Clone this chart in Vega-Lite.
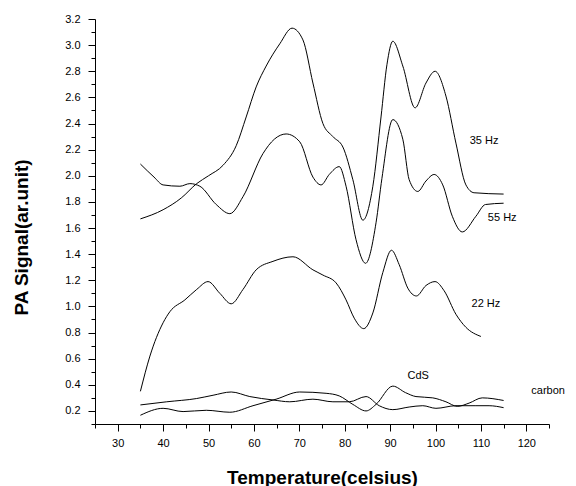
{
  "$schema": "https://vega.github.io/schema/vega-lite/v6.json",
  "width": 454,
  "height": 405,
  "autosize": "none",
  "padding": {"left": 95, "top": 19, "right": 27, "bottom": 62},
  "background": "white",
  "config": {
    "view": {"stroke": null},
    "font": "Liberation Sans",
    "axis": {
      "domainColor": "black",
      "domainWidth": 1,
      "tickColor": "black",
      "tickWidth": 1,
      "grid": false,
      "labelFont": "Liberation Sans",
      "labelFontSize": 11,
      "labelColor": "black",
      "labelOverlap": false,
      "titleFont": "Liberation Sans",
      "titleFontSize": 19,
      "titleFontWeight": "bold",
      "titleColor": "black"
    }
  },
  "datasets": {
    "curves": [
      {"series": "35 Hz", "temp": 35, "signal": 1.67},
      {"series": "35 Hz", "temp": 40, "signal": 1.74},
      {"series": "35 Hz", "temp": 44, "signal": 1.83},
      {"series": "35 Hz", "temp": 47.4, "signal": 1.94},
      {"series": "35 Hz", "temp": 50, "signal": 2.0},
      {"series": "35 Hz", "temp": 53.2, "signal": 2.08},
      {"series": "35 Hz", "temp": 56.1, "signal": 2.23},
      {"series": "35 Hz", "temp": 58.3, "signal": 2.45},
      {"series": "35 Hz", "temp": 60.5, "signal": 2.68},
      {"series": "35 Hz", "temp": 62.7, "signal": 2.84},
      {"series": "35 Hz", "temp": 65.7, "signal": 3.01},
      {"series": "35 Hz", "temp": 68.4, "signal": 3.13},
      {"series": "35 Hz", "temp": 70.8, "signal": 3.04},
      {"series": "35 Hz", "temp": 73, "signal": 2.71},
      {"series": "35 Hz", "temp": 75.2, "signal": 2.4},
      {"series": "35 Hz", "temp": 77.4, "signal": 2.3},
      {"series": "35 Hz", "temp": 79.6, "signal": 2.22},
      {"series": "35 Hz", "temp": 81.8, "signal": 1.97},
      {"series": "35 Hz", "temp": 84, "signal": 1.66},
      {"series": "35 Hz", "temp": 86.2, "signal": 1.92},
      {"series": "35 Hz", "temp": 88, "signal": 2.45},
      {"series": "35 Hz", "temp": 89.3, "signal": 2.85},
      {"series": "35 Hz", "temp": 90.6, "signal": 3.03},
      {"series": "35 Hz", "temp": 92.8, "signal": 2.84},
      {"series": "35 Hz", "temp": 95.5, "signal": 2.52},
      {"series": "35 Hz", "temp": 97.9, "signal": 2.71},
      {"series": "35 Hz", "temp": 99.9, "signal": 2.8},
      {"series": "35 Hz", "temp": 102.3, "signal": 2.61},
      {"series": "35 Hz", "temp": 104.5, "signal": 2.25},
      {"series": "35 Hz", "temp": 106.7, "signal": 1.93},
      {"series": "35 Hz", "temp": 108.5, "signal": 1.87},
      {"series": "35 Hz", "temp": 115, "signal": 1.86},
      {"series": "55 Hz", "temp": 35, "signal": 2.09},
      {"series": "55 Hz", "temp": 38, "signal": 1.99},
      {"series": "55 Hz", "temp": 40, "signal": 1.93},
      {"series": "55 Hz", "temp": 43.7, "signal": 1.92},
      {"series": "55 Hz", "temp": 45.9, "signal": 1.94},
      {"series": "55 Hz", "temp": 48.1, "signal": 1.92},
      {"series": "55 Hz", "temp": 51.7, "signal": 1.78},
      {"series": "55 Hz", "temp": 54.7, "signal": 1.71},
      {"series": "55 Hz", "temp": 57.6, "signal": 1.84},
      {"series": "55 Hz", "temp": 62, "signal": 2.17},
      {"series": "55 Hz", "temp": 64.5, "signal": 2.28},
      {"series": "55 Hz", "temp": 67.1, "signal": 2.32},
      {"series": "55 Hz", "temp": 70.1, "signal": 2.26},
      {"series": "55 Hz", "temp": 73, "signal": 1.99},
      {"series": "55 Hz", "temp": 74.8, "signal": 1.93},
      {"series": "55 Hz", "temp": 76.6, "signal": 2.01},
      {"series": "55 Hz", "temp": 78.8, "signal": 2.07},
      {"series": "55 Hz", "temp": 80.3, "signal": 1.92},
      {"series": "55 Hz", "temp": 82.5, "signal": 1.51},
      {"series": "55 Hz", "temp": 84.6, "signal": 1.33},
      {"series": "55 Hz", "temp": 86.9, "signal": 1.64},
      {"series": "55 Hz", "temp": 88.2, "signal": 1.98},
      {"series": "55 Hz", "temp": 90.6, "signal": 2.43},
      {"series": "55 Hz", "temp": 92.8, "signal": 2.28},
      {"series": "55 Hz", "temp": 94.2, "signal": 1.97},
      {"series": "55 Hz", "temp": 96.1, "signal": 1.88},
      {"series": "55 Hz", "temp": 97.9, "signal": 1.96},
      {"series": "55 Hz", "temp": 99.7, "signal": 2.01},
      {"series": "55 Hz", "temp": 101.6, "signal": 1.93},
      {"series": "55 Hz", "temp": 103.7, "signal": 1.69},
      {"series": "55 Hz", "temp": 105.9, "signal": 1.57},
      {"series": "55 Hz", "temp": 108.9, "signal": 1.69},
      {"series": "55 Hz", "temp": 111, "signal": 1.78},
      {"series": "55 Hz", "temp": 115, "signal": 1.79},
      {"series": "22 Hz", "temp": 35, "signal": 0.35},
      {"series": "22 Hz", "temp": 37.1, "signal": 0.62},
      {"series": "22 Hz", "temp": 40, "signal": 0.875},
      {"series": "22 Hz", "temp": 41.5, "signal": 0.96},
      {"series": "22 Hz", "temp": 44.8, "signal": 1.05},
      {"series": "22 Hz", "temp": 47.4, "signal": 1.13},
      {"series": "22 Hz", "temp": 49.9, "signal": 1.19},
      {"series": "22 Hz", "temp": 52.5, "signal": 1.1},
      {"series": "22 Hz", "temp": 55, "signal": 1.02},
      {"series": "22 Hz", "temp": 57.6, "signal": 1.13},
      {"series": "22 Hz", "temp": 60.5, "signal": 1.28},
      {"series": "22 Hz", "temp": 64.2, "signal": 1.345},
      {"series": "22 Hz", "temp": 68.6, "signal": 1.38},
      {"series": "22 Hz", "temp": 73, "signal": 1.28},
      {"series": "22 Hz", "temp": 75.2, "signal": 1.24},
      {"series": "22 Hz", "temp": 78.1, "signal": 1.18},
      {"series": "22 Hz", "temp": 80.3, "signal": 1.05},
      {"series": "22 Hz", "temp": 82.1, "signal": 0.91},
      {"series": "22 Hz", "temp": 84.2, "signal": 0.83},
      {"series": "22 Hz", "temp": 86.2, "signal": 0.95},
      {"series": "22 Hz", "temp": 88.4, "signal": 1.26},
      {"series": "22 Hz", "temp": 90.3, "signal": 1.43},
      {"series": "22 Hz", "temp": 92, "signal": 1.32},
      {"series": "22 Hz", "temp": 93.9, "signal": 1.14},
      {"series": "22 Hz", "temp": 95.8, "signal": 1.08},
      {"series": "22 Hz", "temp": 97.9, "signal": 1.16},
      {"series": "22 Hz", "temp": 99.9, "signal": 1.19},
      {"series": "22 Hz", "temp": 101.9, "signal": 1.12},
      {"series": "22 Hz", "temp": 104.5, "signal": 0.94},
      {"series": "22 Hz", "temp": 106.7, "signal": 0.84},
      {"series": "22 Hz", "temp": 110, "signal": 0.77},
      {"series": "CdS", "temp": 35, "signal": 0.167},
      {"series": "CdS", "temp": 40, "signal": 0.22},
      {"series": "CdS", "temp": 44.4, "signal": 0.195},
      {"series": "CdS", "temp": 49.5, "signal": 0.205},
      {"series": "CdS", "temp": 54.7, "signal": 0.19},
      {"series": "CdS", "temp": 59.8, "signal": 0.24},
      {"series": "CdS", "temp": 64.9, "signal": 0.29},
      {"series": "CdS", "temp": 70.1, "signal": 0.345},
      {"series": "CdS", "temp": 75.9, "signal": 0.335},
      {"series": "CdS", "temp": 78.8, "signal": 0.315},
      {"series": "CdS", "temp": 81.8, "signal": 0.25},
      {"series": "CdS", "temp": 84.7, "signal": 0.2},
      {"series": "CdS", "temp": 86.9, "signal": 0.25},
      {"series": "CdS", "temp": 90.6, "signal": 0.39},
      {"series": "CdS", "temp": 93.4, "signal": 0.34},
      {"series": "CdS", "temp": 95.7, "signal": 0.31},
      {"series": "CdS", "temp": 99.4, "signal": 0.3},
      {"series": "CdS", "temp": 102.3, "signal": 0.27},
      {"series": "CdS", "temp": 104.8, "signal": 0.235},
      {"series": "CdS", "temp": 107.4, "signal": 0.26},
      {"series": "CdS", "temp": 110.3, "signal": 0.3},
      {"series": "CdS", "temp": 115, "signal": 0.28},
      {"series": "carbon", "temp": 35, "signal": 0.246},
      {"series": "carbon", "temp": 40.8, "signal": 0.27},
      {"series": "carbon", "temp": 47.4, "signal": 0.295},
      {"series": "carbon", "temp": 51, "signal": 0.32},
      {"series": "carbon", "temp": 55, "signal": 0.345},
      {"series": "carbon", "temp": 59.1, "signal": 0.31},
      {"series": "carbon", "temp": 64.2, "signal": 0.284},
      {"series": "carbon", "temp": 67.9, "signal": 0.27},
      {"series": "carbon", "temp": 73, "signal": 0.29},
      {"series": "carbon", "temp": 77.4, "signal": 0.27},
      {"series": "carbon", "temp": 81, "signal": 0.27},
      {"series": "carbon", "temp": 84.7, "signal": 0.31},
      {"series": "carbon", "temp": 87.6, "signal": 0.24},
      {"series": "carbon", "temp": 90.6, "signal": 0.21},
      {"series": "carbon", "temp": 94.2, "signal": 0.23},
      {"series": "carbon", "temp": 97.2, "signal": 0.24},
      {"series": "carbon", "temp": 100.1, "signal": 0.22},
      {"series": "carbon", "temp": 104.5, "signal": 0.24},
      {"series": "carbon", "temp": 108.9, "signal": 0.24},
      {"series": "carbon", "temp": 111.8, "signal": 0.24},
      {"series": "carbon", "temp": 115, "signal": 0.225}
    ],
    "labels": [
      {"temp": 110.7, "signal": 2.27, "label": "35 Hz"},
      {"temp": 114.7, "signal": 1.68, "label": "55 Hz"},
      {"temp": 111.1, "signal": 1.015, "label": "22 Hz"},
      {"temp": 96.2, "signal": 0.47, "label": "CdS"},
      {"temp": 124.8, "signal": 0.35, "label": "carbon"}
    ]
  },
  "encoding": {
    "x": {
      "field": "temp",
      "type": "quantitative",
      "scale": {"domain": [25, 125], "nice": false, "zero": false},
      "axis": {
        "title": "Temperature(celsius)",
        "values": [25, 30, 35, 40, 45, 50, 55, 60, 65, 70, 75, 80, 85, 90, 95, 100, 105, 110, 115, 120, 125],
        "labelExpr": "datum.value % 10 == 0 ? datum.label : ''",
        "tickSize": {"condition": {"test": "datum.value % 10 == 0", "value": 7}, "value": 4},
        "labelPadding": 6,
        "titleY": 44
      }
    },
    "y": {
      "field": "signal",
      "type": "quantitative",
      "scale": {"domain": [0.1, 3.2], "nice": false, "zero": false},
      "axis": {
        "title": "PA Signal(ar.unit)",
        "values": [0.1, 0.2, 0.3, 0.4, 0.5, 0.6, 0.7, 0.8, 0.9, 1.0, 1.1, 1.2, 1.3, 1.4, 1.5, 1.6, 1.7, 1.8, 1.9, 2.0, 2.1, 2.2, 2.3, 2.4, 2.5, 2.6, 2.7, 2.8, 2.9, 3.0, 3.1, 3.2],
        "labelExpr": "round(datum.value * 10) % 2 == 0 ? format(datum.value, '.1f') : ''",
        "tickSize": {"condition": {"test": "round(datum.value * 10) % 2 == 0", "value": 7}, "value": 4},
        "labelPadding": 8,
        "titleX": -64,
        "titleY": 218
      }
    }
  },
  "layer": [
    {
      "data": {"name": "curves"},
      "mark": {"type": "line", "color": "black", "strokeWidth": 1, "interpolate": "monotone"},
      "encoding": {"detail": {"field": "series", "type": "nominal"}}
    },
    {
      "data": {"name": "labels"},
      "mark": {"type": "text", "align": "center", "baseline": "middle", "fontSize": 11, "color": "black"},
      "encoding": {"text": {"field": "label", "type": "nominal"}}
    }
  ]
}
